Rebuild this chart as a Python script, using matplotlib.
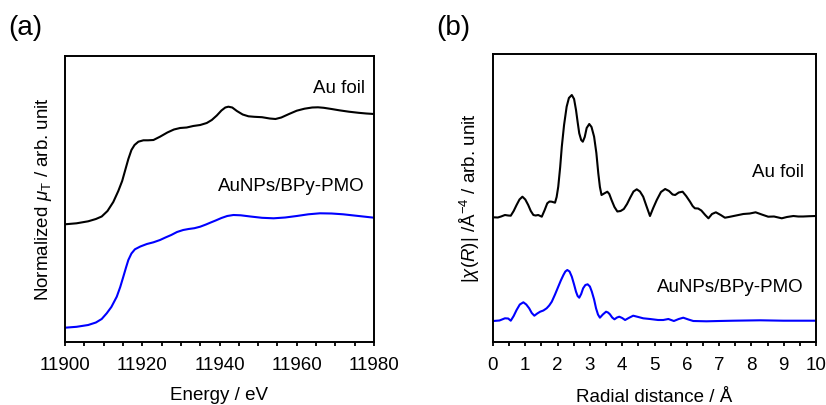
import matplotlib.pyplot as plt

plt.rcParams['font.family'] = ['Liberation Sans', 'DejaVu Sans']
plt.rcParams['mathtext.fontset'] = 'custom'
plt.rcParams['mathtext.rm'] = 'Liberation Sans'
plt.rcParams['mathtext.it'] = 'Liberation Sans:italic'
plt.rcParams['font.size'] = 13.5

# XANES (a): energy / eV and normalized absorption (offset, arb. unit)
energy_foil = [11900.0, 11903.0, 11906.0, 11908.0, 11909.5, 11911.0, 11912.5, 11913.8,
               11914.8, 11915.6, 11916.4, 11917.2, 11918.0, 11919.0, 11920.3, 11921.5,
               11922.9, 11924.6, 11926.5, 11928.2, 11929.8, 11931.5, 11933.2, 11935.0,
               11936.7, 11938.0, 11939.3, 11940.5, 11941.5, 11942.3, 11943.3, 11944.5,
               11946.0, 11947.5, 11949.0, 11951.0, 11953.0, 11954.5, 11956.0, 11958.0,
               11960.0, 11962.0, 11964.0, 11965.5, 11967.0, 11969.0, 11971.0, 11973.5,
               11976.0, 11978.0, 11980.0]
mu_foil = [1.177, 1.187, 1.207, 1.23, 1.255, 1.31, 1.40, 1.51,
           1.61, 1.72, 1.83, 1.92, 1.97, 2.003, 2.017, 2.017,
           2.02, 2.053, 2.095, 2.125, 2.14, 2.145, 2.16, 2.17,
           2.19, 2.22, 2.265, 2.315, 2.345, 2.353, 2.345, 2.31,
           2.275, 2.257, 2.252, 2.248, 2.235, 2.23, 2.245, 2.28,
           2.313, 2.333, 2.345, 2.347, 2.342, 2.33, 2.317, 2.303,
           2.292, 2.285, 2.28]

energy_np = [11900.0, 11903.0, 11906.0, 11908.0, 11909.5, 11910.8, 11912.0, 11913.4,
             11914.3, 11915.1, 11915.8, 11916.4, 11917.2, 11918.1, 11919.5, 11921.2,
             11922.9, 11924.6, 11926.0, 11927.5, 11929.0, 11930.6, 11932.0, 11933.5,
             11935.0, 11936.5, 11937.6, 11939.0, 11940.5, 11942.0, 11943.6, 11945.5,
             11948.0, 11951.0, 11954.0, 11957.0, 11960.0, 11963.0, 11966.0, 11969.0,
             11972.0, 11976.0, 11980.0]
mu_np = [0.143, 0.152, 0.17, 0.195, 0.23, 0.287, 0.35, 0.453,
         0.55, 0.653, 0.745, 0.82, 0.885, 0.927, 0.955, 0.98,
         0.997, 1.02, 1.045, 1.07, 1.10, 1.12, 1.13, 1.138,
         1.153, 1.175, 1.193, 1.215, 1.24, 1.26, 1.27, 1.267,
         1.255, 1.242, 1.237, 1.245, 1.26, 1.277, 1.287, 1.285,
         1.277, 1.26, 1.243]

# FT-EXAFS (b): radial distance / angstrom and |chi(R)| (offset, arb. unit)
r_foil = [0.00, 0.15, 0.25, 0.37, 0.47, 0.55, 0.64, 0.73, 0.82, 0.91, 1.00, 1.09,
          1.17, 1.25, 1.32, 1.40, 1.51, 1.60, 1.68, 1.75, 1.82, 1.92, 1.97, 2.02,
          2.08, 2.13, 2.20, 2.28, 2.35, 2.44, 2.51, 2.57, 2.62, 2.67, 2.73, 2.78,
          2.84, 2.90, 2.98, 3.05, 3.13, 3.20, 3.26, 3.31, 3.36, 3.44, 3.54, 3.60,
          3.67, 3.76, 3.85, 3.95, 4.05, 4.15, 4.25, 4.35, 4.45, 4.55, 4.65, 4.75,
          4.86, 4.96, 5.07, 5.20, 5.33, 5.45, 5.56, 5.64, 5.75, 5.87, 5.98, 6.10,
          6.18, 6.25, 6.35, 6.45, 6.57, 6.67, 6.78, 6.90, 7.05, 7.18, 7.30, 7.45,
          7.60, 7.75, 7.95, 8.13, 8.32, 8.52, 8.70, 8.94, 9.10, 9.30, 9.45, 9.60,
          9.80, 10.0]
chi_foil = [1.247, 1.245, 1.255, 1.27, 1.265, 1.263, 1.31, 1.37, 1.425, 1.453, 1.425, 1.37,
            1.31, 1.27, 1.265, 1.27, 1.253, 1.32, 1.387, 1.405, 1.403, 1.393, 1.45, 1.553,
            1.75, 1.953, 2.17, 2.353, 2.44, 2.47, 2.43, 2.32, 2.20, 2.087, 2.02, 2.003,
            2.05, 2.14, 2.18, 2.15, 2.053, 1.89, 1.687, 1.55, 1.47, 1.485, 1.503, 1.48,
            1.42, 1.35, 1.305, 1.31, 1.33, 1.38, 1.445, 1.505, 1.527, 1.505, 1.453, 1.36,
            1.26, 1.34, 1.42, 1.50, 1.53, 1.51, 1.475, 1.47, 1.495, 1.503, 1.46, 1.403,
            1.36, 1.337, 1.335, 1.315, 1.27, 1.237, 1.28, 1.297, 1.27, 1.243, 1.25, 1.26,
            1.27, 1.28, 1.285, 1.297, 1.275, 1.253, 1.255, 1.237, 1.25, 1.26, 1.255, 1.255,
            1.258, 1.26]

r_np = [0.00, 0.20, 0.37, 0.47, 0.55, 0.64, 0.73, 0.83, 0.94, 1.03, 1.12, 1.20,
        1.28, 1.37, 1.46, 1.56, 1.66, 1.74, 1.82, 1.92, 2.02, 2.10, 2.18, 2.24,
        2.30, 2.37, 2.44, 2.51, 2.57, 2.62, 2.67, 2.73, 2.79, 2.86, 2.93, 3.00,
        3.06, 3.13, 3.19, 3.25, 3.31, 3.40, 3.50, 3.56, 3.62, 3.69, 3.76, 3.84,
        3.91, 4.00, 4.09, 4.20, 4.34, 4.50, 4.65, 4.86, 5.11, 5.27, 5.43, 5.60,
        5.75, 5.89, 6.05, 6.20, 6.61, 7.00, 7.44, 8.27, 8.99, 10.0]
chi_np = [0.21, 0.215, 0.237, 0.235, 0.213, 0.26, 0.32, 0.375, 0.397, 0.375, 0.337, 0.29,
          0.263, 0.285, 0.303, 0.315, 0.337, 0.365, 0.403, 0.475, 0.553, 0.615, 0.67, 0.705,
          0.72, 0.705, 0.653, 0.575, 0.503, 0.46, 0.443, 0.48, 0.537, 0.57, 0.577, 0.555,
          0.503, 0.425, 0.337, 0.275, 0.243, 0.275, 0.303, 0.295, 0.277, 0.245, 0.227, 0.245,
          0.253, 0.24, 0.22, 0.24, 0.263, 0.25, 0.237, 0.23, 0.22, 0.22, 0.23, 0.21,
          0.23, 0.243, 0.225, 0.21, 0.207, 0.21, 0.213, 0.217, 0.213, 0.213]

fig = plt.figure(figsize=(8.26, 4.05), dpi=100)
ax1 = fig.add_axes([65 / 826, 63 / 405, 309 / 826, 286 / 405])
ax2 = fig.add_axes([493 / 826, 63 / 405, 323 / 826, 288 / 405])

for ax in (ax1, ax2):
    for s in ax.spines.values():
        s.set_linewidth(1.4)
    ax.tick_params(axis='x', which='both', direction='out', length=3, width=1.3,
                   pad=8, labelsize=13.5)
    ax.set_yticks([])

# (a) XANES
ax1.plot(energy_foil, mu_foil, color='black', lw=1.5, solid_joinstyle='round')
ax1.plot(energy_np, mu_np, color='#0000ff', lw=1.5, solid_joinstyle='round')
ax1.set_xlim(11900, 11980)
ax1.set_ylim(0, 2.86)
ax1.set_xticks([11900, 11920, 11940, 11960, 11980])
ax1.set_xticks(range(11900, 11981, 5), minor=True)
ax1.set_xlabel('Energy / eV', labelpad=9.5)
ax1.set_ylabel(r'Normalized $\mu_\mathrm{T}$ / arb. unit', labelpad=8)
ax1.text(0.97, 0.888, 'Au foil', transform=ax1.transAxes, ha='right', va='center')
ax1.text(0.97, 0.542, 'AuNPs/BPy-PMO', transform=ax1.transAxes, ha='right', va='center')

# (b) FT-EXAFS
ax2.plot(r_foil, chi_foil, color='black', lw=1.5, solid_joinstyle='round')
ax2.plot(r_np, chi_np, color='#0000ff', lw=1.5, solid_joinstyle='round')
ax2.set_xlim(0, 10)
ax2.set_ylim(0, 2.88)
ax2.set_xticks(range(0, 11))
ax2.set_xticks([i * 0.5 for i in range(21)], minor=True)
ax2.set_xlabel('Radial distance / Å', labelpad=10.5)
ax2.set_ylabel(r'|$\chi$($R$)| /Å$^{-4}$ / arb. unit', labelpad=8)
ax2.text(0.963, 0.587, 'Au foil', transform=ax2.transAxes, ha='right', va='center')
ax2.text(0.963, 0.19, 'AuNPs/BPy-PMO', transform=ax2.transAxes, ha='right', va='center')

fig.text(8 / 826, 1 - 28 / 405, '(a)', fontsize=20, ha='left', va='center')
fig.text(436 / 826, 1 - 28 / 405, '(b)', fontsize=20, ha='left', va='center')

fig.savefig('out.png', dpi=100)
